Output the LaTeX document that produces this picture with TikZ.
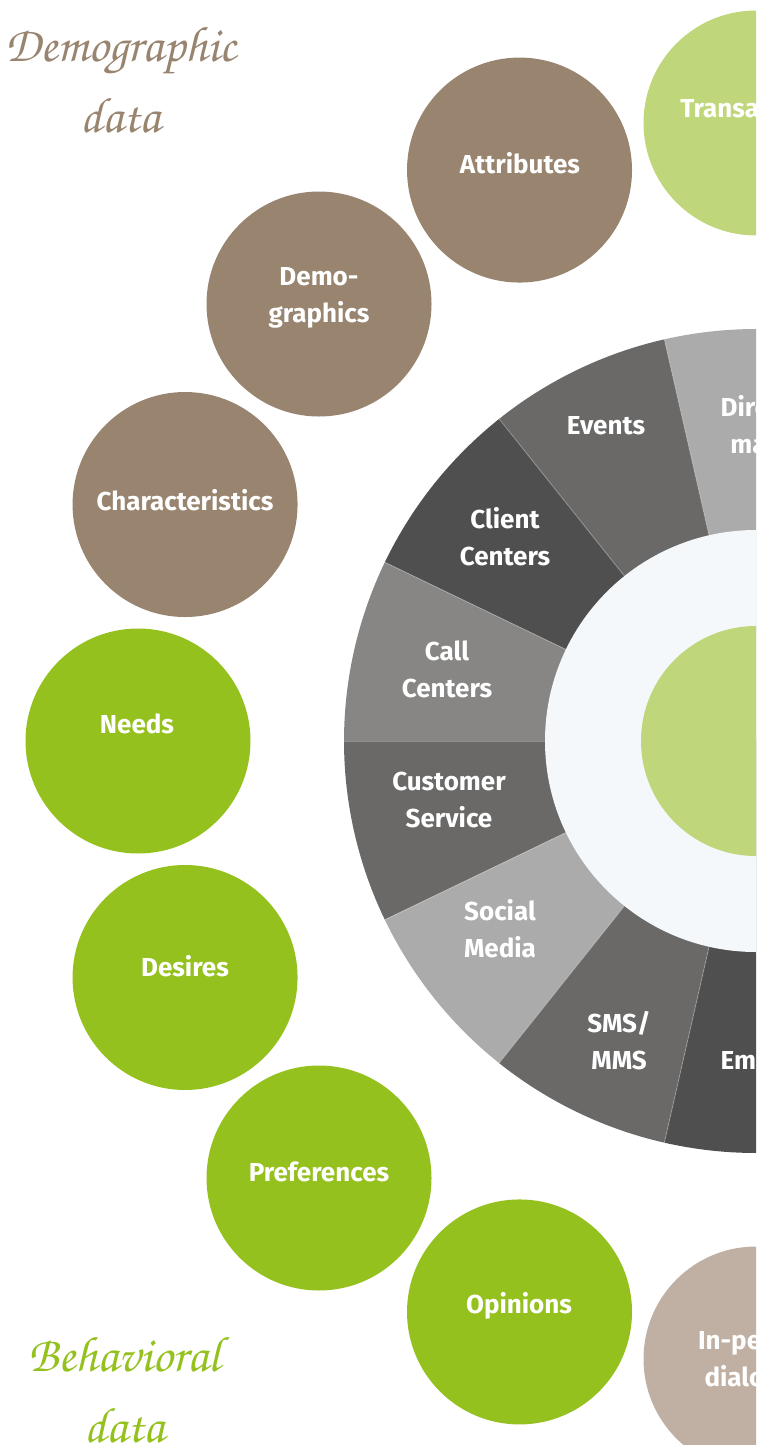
\documentclass[tikz,border=0pt]{standalone}
\usepackage{fontspec}
\setmainfont{Fira Sans}
\newfontfamily\handfont{texgyrechorus-mediumitalic.otf}
\usetikzlibrary{calc}

\definecolor{earth}{HTML}{98846F}
\definecolor{sand}{HTML}{C0B0A3}
\definecolor{leaf}{HTML}{95C11F}
\definecolor{paleleaf}{HTML}{BFD77A}
\definecolor{greyA}{HTML}{4F4F4F}
\definecolor{greyB}{HTML}{6A6968}
\definecolor{greyC}{HTML}{878685}
\definecolor{greyD}{HTML}{ACABAB}
\definecolor{hubfill}{HTML}{F4F8FA}

% multi-line labels are anchored at the baseline of their last line
\tikzset{
  bubble/.style={circle, minimum size=225pt, inner sep=0pt},
  lbl/.style={text=white, font=\fontsize{26}{37}\selectfont\bfseries,
              align=center, anchor=base, inner sep=0pt},
  hand/.style={font=\handfont\fontsize{50}{71}\selectfont, align=center,
               anchor=base, inner sep=0pt},
}

\begin{document}
\begin{tikzpicture}[x=1pt,y=1pt]
\useasboundingbox (0,0) rectangle (756,-1445);
\clip (0,0) rectangle (756,-1445);
\coordinate (hubc) at (756,-741);

% channel ring: 14 equal sectors, the left half is shown
\foreach \i/\col in {0/greyD,1/greyB,2/greyA,3/greyC,4/greyB,5/greyD,6/greyB,7/greyA} {
  \pgfmathsetmacro\a{360/14*(3+\i)}
  \pgfmathsetmacro\b{\a+360/14}
  \fill[\col] (hubc) -- ($(hubc)+(\a:412)$) arc[start angle=\a, end angle=\b, radius=412] -- cycle;
}
\foreach \i in {0,...,8} {
  \pgfmathsetmacro\a{360/14*(3+\i)}
  \draw[white, opacity=.25, line width=1pt] (hubc) -- ($(hubc)+(\a:412)$);
}

% hub
\node[circle, fill=hubfill, minimum size=422pt, inner sep=0pt] (hub) at (hubc) {};
\node[circle, fill=paleleaf, minimum size=230pt, inner sep=0pt] (core) at (hubc) {};

% channel labels
\node[lbl] (l-direct) at (756,-453) {Direct\\mail};
\node[lbl] (l-events) at (606,-434) {Events};
\node[lbl] (l-client) at (505,-565) {Client\\Centers};
\node[lbl] (l-call)   at (447,-697) {Call\\Centers};
\node[lbl] (l-cust)   at (449,-827) {Customer\\Service};
\node[lbl] (l-social) at (500,-957) {Social\\Media};
\node[lbl] (l-sms)    at (619,-1069) {SMS/\\MMS};
\node[lbl] (l-email)  at (753,-1069) {Email};

% data bubbles around the ring
\node[bubble, fill=paleleaf] (trans)   at ($(hubc)+(90:618)$) {};
\node[bubble, fill=earth]    (attr)    at ($(hubc)+(112.5:618)$) {};
\node[bubble, fill=earth]    (demo)    at ($(hubc)+(135:618)$) {};
\node[bubble, fill=earth]    (chars)   at ($(hubc)+(157.5:618)$) {};
\node[bubble, fill=leaf]     (needs)   at ($(hubc)+(180:618)$) {};
\node[bubble, fill=leaf]     (desires) at ($(hubc)+(202.5:618)$) {};
\node[bubble, fill=leaf]     (prefs)   at ($(hubc)+(225:618)$) {};
\node[bubble, fill=leaf]     (opin)    at ($(hubc)+(247.5:618)$) {};
\node[bubble, fill=sand]     (inperson) at ($(hubc)+(270:618)$) {};

\node[lbl] (t-trans)   at (756,-117)  {Transactions};
\node[lbl] (t-attr)    at (520,-173)  {Attributes};
\node[lbl] (t-demo)    at (319,-322)  {Demo-\\graphics};
\node[lbl] (t-chars)   at (185,-510)  {Characteristics};
\node[lbl] (t-needs)   at (137,-733)  {Needs};
\node[lbl] (t-desires) at (185,-976)  {Desires};
\node[lbl] (t-prefs)   at (319,-1181) {Preferences};
\node[lbl] (t-opin)    at (519,-1313) {Opinions};
\node[lbl] (t-inperson) at (756,-1386) {In-person\\dialogue};

% group captions
\node[hand, text=earth] (cap-demo)  at (121,-132)  {Demographic\\data};
\node[hand, text=leaf]  (cap-behav) at (124,-1442) {Behavioral\\data};
\end{tikzpicture}
\end{document}
